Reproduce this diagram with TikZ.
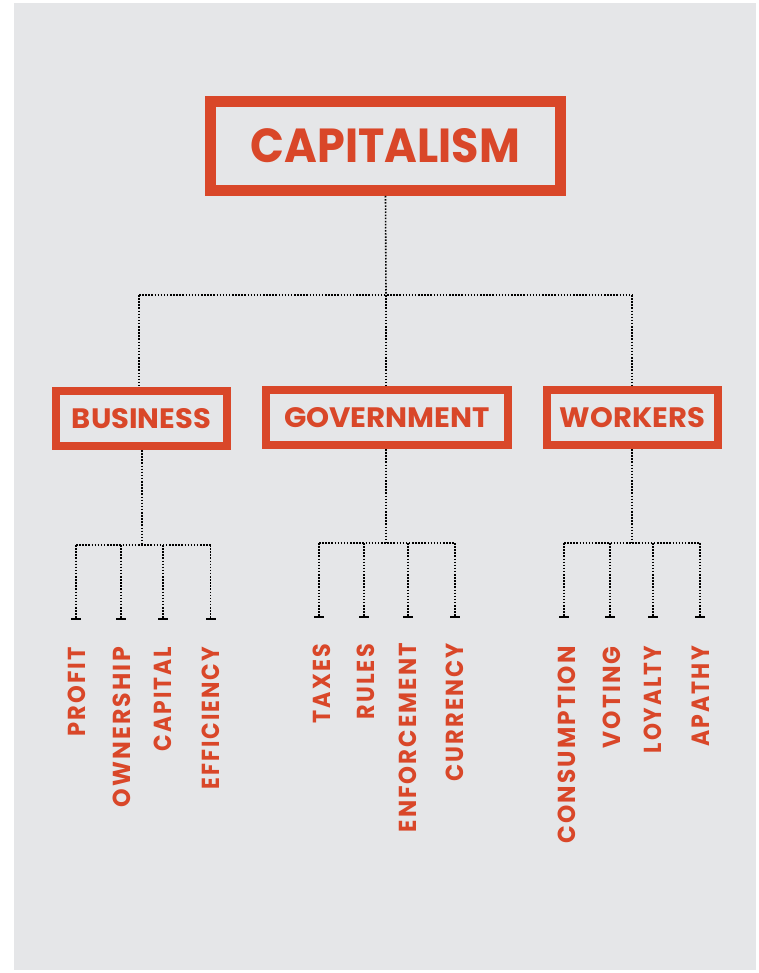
\documentclass[tikz,border=0pt]{standalone}
\usepackage{fontspec}
\setmainfont{Poppins}
\newfontfamily\spfont{Poppins}[LetterSpace=9]
\usepackage{graphicx}
\definecolor{bg}{RGB}{229,230,232}
\definecolor{rd}{RGB}{217,71,41}
\tikzset{
 dotline/.style={black, line width=1.6pt, dash pattern=on 1.5pt off 1.6pt},
 bigbox/.style={draw=rd, line width=11pt, minimum width=350pt, minimum height=89pt, inner sep=0pt, text=rd},
 midbox/.style={draw=rd, line width=8pt, minimum height=55pt, inner sep=0pt, text=rd},
 tickmark/.style={fill=black, minimum width=10pt, minimum height=2.5pt, inner sep=0pt, outer sep=0pt},
 lab/.style={text=rd, rotate=90, anchor=east, inner sep=0pt},
}
\newcommand{\txtfit}[3]{\resizebox{#1pt}{#2pt}{\bfseries #3}}
\newcommand{\labfit}[2]{\resizebox{#1pt}{17.5pt}{\spfont\bfseries #2}}
\begin{document}
\begin{tikzpicture}[x=1pt,y=-1pt]
\useasboundingbox (0,0) rectangle (759,973);
\fill[bg] (14,3) rectangle (756,970);

% boxes
\node[bigbox] (cap) at (385.5,146) {\txtfit{269}{34}{CAPITALISM}};
\node[midbox, minimum width=171pt] (bus) at (141.5,418.5) {\txtfit{139}{20}{BUSINESS}};
\node[midbox, minimum width=242pt] (gov) at (387,417.5) {\txtfit{206}{20}{GOVERNMENT}};
\node[midbox, minimum width=171pt] (wor) at (632.5,417.5) {\txtfit{145}{20}{WORKERS}};

% level 1 connectors
\coordinate (j0) at (386,295);
\coordinate (jl) at (139,295);
\coordinate (jm) at (386,295);
\coordinate (jr) at (632,295);
\draw[dotline] (cap.south) -- (j0);
\draw[dotline] (jl) -- (jr);
\draw[dotline] (jl) -- (jl |- bus.north);
\draw[dotline] (jm) -- (jm |- gov.north);
\draw[dotline] (jr) -- (jr |- wor.north);

% business branch
\coordinate (bj) at (142,545);
\node[tickmark] (b1) at (76,619) {};
\node[tickmark] (b2) at (121,619) {};
\node[tickmark] (b3) at (163,619) {};
\node[tickmark] (b4) at (210.5,619) {};
\draw[dotline] (bus.south -| bj) -- (bj);
\draw[dotline] (b1 |- bj) -- (b4 |- bj);
\foreach \t in {b1,b2,b3,b4} \draw[dotline] (\t |- bj) -- (\t);
\node[lab] (l1) at (77,647) {\labfit{89}{PROFIT}};
\node[lab] (l2) at (122,647) {\labfit{160}{OWNERSHIP}};
\node[lab] (l3) at (163,647) {\labfit{104}{CAPITAL}};
\node[lab] (l4) at (211,647) {\labfit{142}{EFFICIENCY}};

% government branch
\coordinate (gj) at (386,543);
\node[tickmark] (g1) at (319,617) {};
\node[tickmark] (g2) at (364,617) {};
\node[tickmark] (g3) at (408,617) {};
\node[tickmark] (g4) at (455,617) {};
\draw[dotline] (gov.south -| gj) -- (gj);
\draw[dotline] (g1 |- gj) -- (g4 |- gj);
\foreach \t in {g1,g2,g3,g4} \draw[dotline] (\t |- gj) -- (\t);
\node[lab] (m1) at (322,644) {\labfit{79}{TAXES}};
\node[lab] (m2) at (366,644) {\labfit{75}{RULES}};
\node[lab] (m3) at (408,643) {\labfit{189}{ENFORCEMENT}};
\node[lab] (m4) at (455,643) {\labfit{138}{CURRENCY}};

% workers branch
\coordinate (wj) at (632,543);
\node[tickmark] (w1) at (564,617) {};
\node[tickmark] (w2) at (610,617) {};
\node[tickmark] (w3) at (653,617) {};
\node[tickmark] (w4) at (700,617) {};
\draw[dotline] (wor.south -| wj) -- (wj);
\draw[dotline] (w1 |- wj) -- (w4 |- wj);
\foreach \t in {w1,w2,w3,w4} \draw[dotline] (\t |- wj) -- (\t);
\node[lab] (n1) at (567,646) {\labfit{197}{CONSUMPTION}};
\node[lab] (n2) at (612,646) {\labfit{102}{VOTING}};
\node[lab] (n3) at (653,646) {\labfit{107}{LOYALTY}};
\node[lab] (n4) at (701,646) {\labfit{100}{APATHY}};
\end{tikzpicture}
\end{document}
